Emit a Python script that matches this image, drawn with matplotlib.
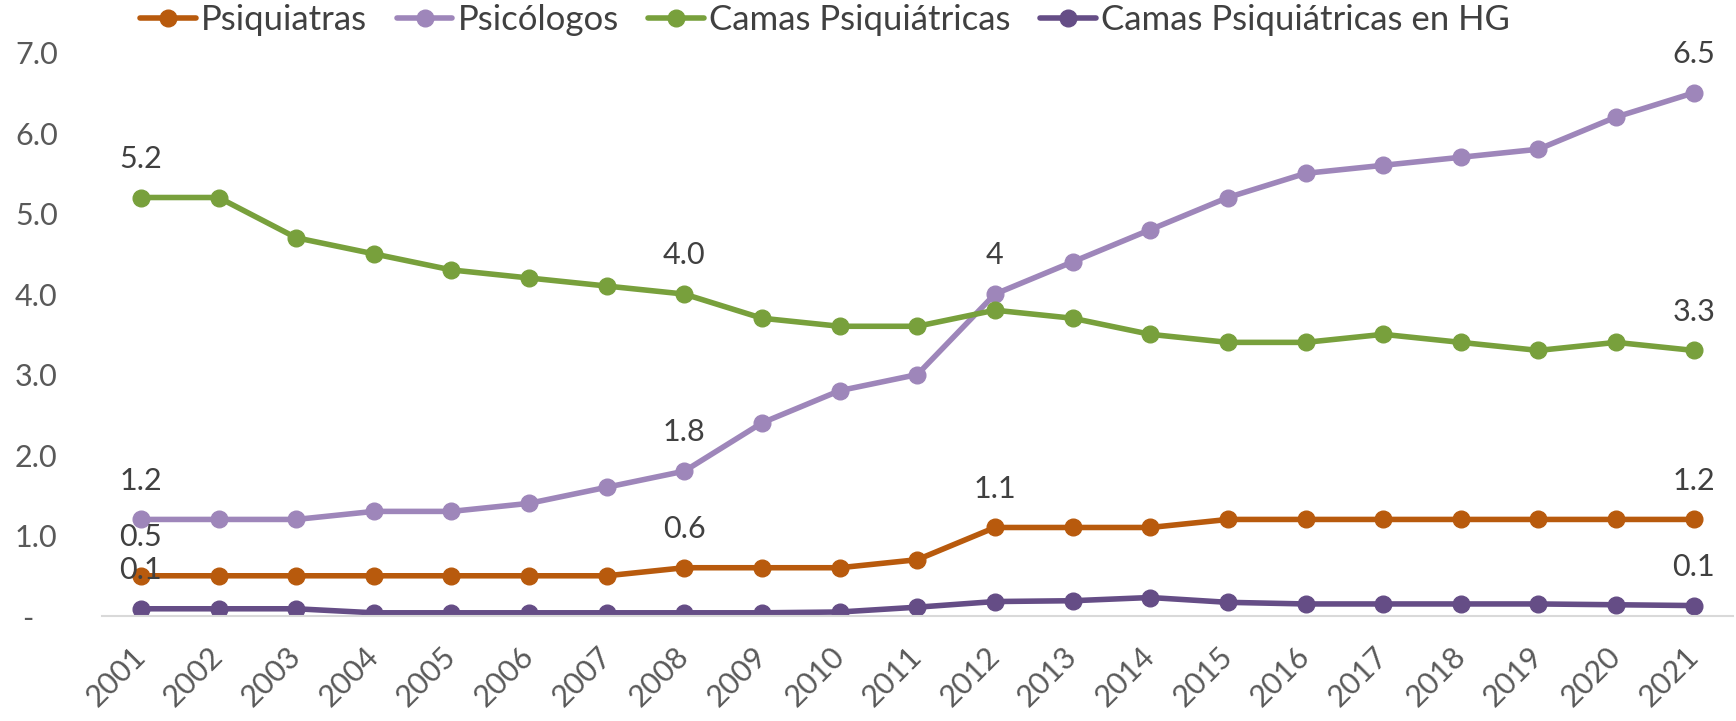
import matplotlib.pyplot as plt

plt.rcParams['font.family'] = ['Lato', 'DejaVu Sans']

years = [str(y) for y in range(2001, 2022)]
psiquiatras = [0.5, 0.5, 0.5, 0.5, 0.5, 0.5, 0.5, 0.6, 0.6, 0.6, 0.7,
               1.1, 1.1, 1.1, 1.2, 1.2, 1.2, 1.2, 1.2, 1.2, 1.2]
psicologos = [1.2, 1.2, 1.2, 1.3, 1.3, 1.4, 1.6, 1.8, 2.4, 2.8, 3.0,
              4.0, 4.4, 4.8, 5.2, 5.5, 5.6, 5.7, 5.8, 6.2, 6.5]
camas = [5.2, 5.2, 4.7, 4.5, 4.3, 4.2, 4.1, 4.0, 3.7, 3.6, 3.6,
         3.8, 3.7, 3.5, 3.4, 3.4, 3.5, 3.4, 3.3, 3.4, 3.3]
camas_hg = [0.09, 0.09, 0.09, 0.04, 0.04, 0.04, 0.04, 0.04, 0.04, 0.05, 0.11,
            0.18, 0.19, 0.23, 0.17, 0.15, 0.15, 0.15, 0.15, 0.14, 0.13]

# which points carry a value label, and the text shown
labels_psiq = {0: '0.5', 7: '0.6', 11: '1.1', 20: '1.2'}
labels_psic = {0: '1.2', 7: '1.8', 11: '4', 20: '6.5'}
labels_camas = {0: '5.2', 7: '4.0', 20: '3.3'}
labels_hg = {0: '0.1', 20: '0.1'}

series = [
    ('Psiquiatras', psiquiatras, '#B85A0D', labels_psiq),
    ('Psicólogos', psicologos, '#9E86BA', labels_psic),
    ('Camas Psiquiátricas', camas, '#78A03C', labels_camas),
    ('Camas Psiquiátricas en HG', camas_hg, '#654D86', labels_hg),
]

fs = 22

fig = plt.figure(figsize=(17.36, 7.21), dpi=100)
ax = fig.add_axes([0.0588, 0.1456, 0.9392, 0.7814])

x = list(range(len(years)))
for name, vals, color, labs in series:
    ax.plot(x, vals, color=color, lw=4, marker='o', ms=12, label=name,
            solid_capstyle='round')
    for i, t in labs.items():
        ax.annotate(t, (i, vals[i]), xytext=(0, 28), textcoords='offset points',
                    ha='center', va='center', fontsize=fs, color='#404040')

ax.set_xlim(-0.5, len(years) - 0.5)
ax.set_ylim(0, 7)
ax.set_yticks(range(8))
ax.set_yticklabels(['-   '] + ['%.1f' % v for v in range(1, 8)])
ax.set_xticks(x)
ax.set_xticklabels(years, rotation=45, ha='right', va='center',
                   rotation_mode='anchor')
ax.tick_params(axis='both', length=0, labelsize=fs, labelcolor='#595959')
ax.tick_params(axis='y', pad=32)
ax.tick_params(axis='x', pad=26)

for s in ['top', 'right', 'left']:
    ax.spines[s].set_visible(False)
ax.spines['bottom'].set_color('#D9D9D9')
ax.spines['bottom'].set_linewidth(1.5)

fig.legend(loc='center', bbox_to_anchor=(825 / 1736, 1 - 20 / 721), ncol=4,
           frameon=False, fontsize=25, handlelength=1.6, handletextpad=0.15,
           columnspacing=0.85, labelcolor='#404040')

fig.savefig('out.png', dpi=100)
